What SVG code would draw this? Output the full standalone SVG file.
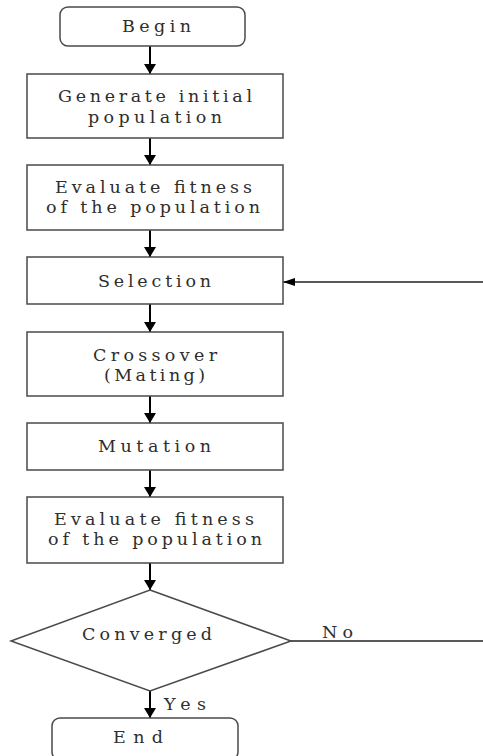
<svg xmlns="http://www.w3.org/2000/svg" width="483" height="756" viewBox="0 0 483 756">
<defs>
<style>
.box{fill:#fff;stroke:#4a4a4a;stroke-width:1.5}
.t{font-family:"DejaVu Serif","Liberation Serif",serif;font-size:17.5px;fill:#2e2e2e}
.c{stroke:#000;stroke-width:2;fill:none}
.thin{stroke:#222;stroke-width:1.5;fill:none}
</style>
<marker id="ah" viewBox="0 0 12 10" refX="6" refY="10" markerWidth="12" markerHeight="10" markerUnits="userSpaceOnUse" orient="0">
<path d="M0,0 L12,0 L6,10 z" fill="#000"/>
</marker>
<marker id="ah2" viewBox="0 0 12 8" refX="12" refY="4" markerWidth="13" markerHeight="8" markerUnits="userSpaceOnUse" orient="auto">
<path d="M0,0 L12,4 L0,8 z" fill="#000"/>
</marker>
</defs>
<rect width="483" height="756" fill="#fff"/>
<g id="connectors">
<line class="c" x1="150" y1="46" x2="150" y2="74" marker-end="url(#ah)"/>
<line class="c" x1="150" y1="138" x2="150" y2="165" marker-end="url(#ah)"/>
<line class="c" x1="150" y1="230" x2="150" y2="257" marker-end="url(#ah)"/>
<line class="c" x1="150" y1="304" x2="150" y2="332" marker-end="url(#ah)"/>
<line class="c" x1="150" y1="396" x2="150" y2="423" marker-end="url(#ah)"/>
<line class="c" x1="150" y1="470" x2="150" y2="497" marker-end="url(#ah)"/>
<line class="c" x1="150" y1="563" x2="150" y2="590" marker-end="url(#ah)"/>
<line class="c" x1="150" y1="691" x2="150" y2="718" marker-end="url(#ah)"/>
<line class="thin" x1="291" y1="641" x2="483" y2="641"/>
<line class="thin" x1="483" y1="282" x2="283" y2="282" marker-end="url(#ah2)"/>
<text class="t" x="322" y="638" textLength="31" lengthAdjust="spacing">No</text>
<text class="t" x="164" y="710" textLength="42" lengthAdjust="spacing">Yes</text>
</g>
<g id="begin">
<rect class="box" x="60" y="7" width="185" height="39" rx="8"/>
<text class="t" x="122" y="32" textLength="69" lengthAdjust="spacing">Begin</text>
</g>
<g id="generate">
<rect class="box" x="27" y="74" width="256" height="64"/>
<text class="t" x="58" y="102" textLength="194" lengthAdjust="spacing">Generate initial</text>
<text class="t" x="88" y="123" textLength="134" lengthAdjust="spacing">population</text>
</g>
<g id="evaluate1">
<rect class="box" x="27" y="165" width="256" height="65"/>
<text class="t" x="55" y="193" textLength="197" lengthAdjust="spacing">Evaluate fitness</text>
<text class="t" x="46" y="213" textLength="214" lengthAdjust="spacing">of the population</text>
</g>
<g id="selection">
<rect class="box" x="27" y="257" width="256" height="47"/>
<text class="t" x="98" y="287" textLength="113" lengthAdjust="spacing">Selection</text>
</g>
<g id="crossover">
<rect class="box" x="27" y="332" width="256" height="64"/>
<text class="t" x="93" y="361" textLength="124" lengthAdjust="spacing">Crossover</text>
<text class="t" x="104" y="381" textLength="101" lengthAdjust="spacing">(Mating)</text>
</g>
<g id="mutation">
<rect class="box" x="27" y="423" width="256" height="47"/>
<text class="t" x="98" y="452" textLength="113" lengthAdjust="spacing">Mutation</text>
</g>
<g id="evaluate2">
<rect class="box" x="27" y="497" width="256" height="66"/>
<text class="t" x="54" y="525" textLength="200" lengthAdjust="spacing">Evaluate fitness</text>
<text class="t" x="48" y="545" textLength="214" lengthAdjust="spacing">of the population</text>
</g>
<g id="converged">
<polygon class="box" points="150,590 291,641 150,691 11,641"/>
<text class="t" x="82" y="640" textLength="130" lengthAdjust="spacing">Converged</text>
</g>
<g id="end">
<rect class="box" x="52" y="718" width="186" height="42" rx="8"/>
<text class="t" x="113" y="743" textLength="50" lengthAdjust="spacing">End</text>
</g>
</svg>
